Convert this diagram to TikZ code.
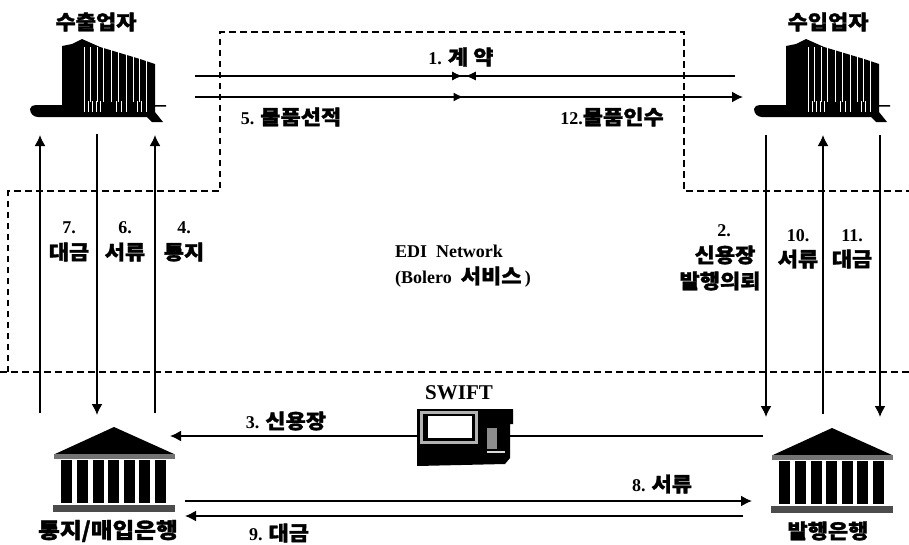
\documentclass[tikz,border=0pt]{standalone}
\usepackage{fontspec}
\usetikzlibrary{arrows.meta,decorations.markings}
\setmainfont{Liberation Serif}
\newfontfamily\krfont{Noto Sans CJK KR}[FakeStretch=1.1,BoldFeatures={FakeBold=1.5}]
\newcommand{\krs}{\krfont\fontsize{20}{24}\selectfont\bfseries}
\newcommand{\lts}{\rmfamily\fontsize{18}{22}\selectfont\bfseries}
\tikzset{
  lbl/.style={font=\krs, inner sep=0pt, align=center, text=black},
  lat/.style={font=\lts, inner sep=0pt, align=center, text=black},
  conn/.style={line width=1.7pt, draw=black},
  tip/.style={-{Latex[length=11pt,width=11pt]}},
  bound/.style={line width=1.6pt, draw=black, dash pattern=on 6.5pt off 4.5pt},
  midR/.style={postaction={decorate},decoration={markings,mark=at position #1 with {\arrow{Latex[length=10pt,width=9pt]}}}},
  midL/.style={postaction={decorate},decoration={markings,mark=at position #1 with {\arrow{Latex[reversed,length=10pt,width=9pt]}}}},
  mass/.style={fill=black, draw=none},
  gap/.style={draw=white, line width=0.35pt},
  plant/.pic={
    \path[mass] (30,109) to[out=90,in=180] (36,105) -- (62,105) -- (62,46) -- (72,44) -- (82,39) -- (100,47) -- (120,53) -- (140,59) -- (155,64) -- (155,105) -- (166,105) -- (166,106.5) -- (155,106.5) -- (155,112) -- (163,122) -- (152,122) -- (147,117) -- (38,117) to[out=180,in=-90] (30,109) -- cycle;
    \foreach \xa in {84,90,97,103,111,118,126,133,139,146}{\draw[gap] (\xa,47) -- (\xa,102);}
    \foreach \xa in {84,88,92,96,100,116,121,126,137,141,146}{\draw[white,line width=0.8pt] (\xa,101) -- (\xa,112);}
  },
  bank/.pic={
    \path[mass] (114,427) -- (174,454) -- (55,454) -- cycle;
    \path[fill=black!55] (54,454) rectangle (175,459);
    \foreach \xa in {61,77,93,108,124,139,155}{\path[mass] (\xa,460) rectangle ++(11,43);}
    \path[fill=black!70] (53,505) rectangle (175,512);
  }
}
\begin{document}
\begin{tikzpicture}[x=1pt,y=-1pt]
\useasboundingbox (0,0) rectangle (909,544);
\fill[white] (0,0) rectangle (909,544);
\coordinate (b0) at (0,372); \coordinate (b1) at (909,372);
\coordinate (c0) at (8,372); \coordinate (c1) at (8,191); \coordinate (c2) at (220,191);
\coordinate (c3) at (220,32); \coordinate (c4) at (684,32); \coordinate (c5) at (684,191); \coordinate (c6) at (909,191);
\draw[bound] (c0) -- (c1) -- (c2) -- (c3) -- (c4) -- (c5) -- (c6);
\draw[bound] (b0) -- (b1);
\pic at (0,0) {plant};
\pic at (724,0) {plant};
\pic at (0,0) {bank};
\pic at (718,1) {bank};
\foreach \n/\x/\ya/\yb in {e7/40/135/413,e6/97/134/415,e4/155/135/413,i2/766/135/417,i10/823/135/414,i11/880/135/417}{
  \coordinate (\n t) at (\x,\ya); \coordinate (\n b) at (\x,\yb);}
\draw[conn,tip] (e7b) -- (e7t);
\draw[conn,tip] (e6t) -- (e6b);
\draw[conn,tip] (e4b) -- (e4t);
\draw[conn,tip] (i2t) -- (i2b);
\draw[conn,tip] (i10b) -- (i10t);
\draw[conn,tip] (i11t) -- (i11b);
\coordinate (k1a) at (195,76); \coordinate (k1b) at (735,76);
\coordinate (k5a) at (195,97); \coordinate (k5b) at (743,97);
\draw[conn,midR=0.4945,midL=0.52] (k1a) -- (k1b);
\draw[conn,tip,midR=0.49] (k5a) -- (k5b);
\node[lat,font=\rmfamily\fontsize{21}{24}\selectfont\bfseries] (swifttxt) at (459,393) {SWIFT};
\coordinate (s0) at (763,436); \coordinate (s1) at (170,436);
\draw[conn,tip] (s0) -- (s1);
\path[mass] (417,409) -- (513,409) -- (513,424) -- (510,424) -- (510,458) -- (505,464) -- (417,466) -- cycle;
\path[fill=black!30] (420,411) rectangle (478,444);
\path[fill=black] (423,414) rectangle (475,441);
\path[fill=white] (428,415.5) rectangle (472,438);
\path[fill=black!45] (487,428) rectangle (497,449);
\path[fill=white!85!black] (487,450.5) rectangle (505,453);
\coordinate (l8a) at (185,501); \coordinate (l8b) at (752,501);
\coordinate (l9a) at (743,516); \coordinate (l9b) at (185,516);
\draw[conn,tip] (l8a) -- (l8b);
\draw[conn,tip] (l9a) -- (l9b);
\node[lbl] (t1) at (96,22) {수출업자};
\node[lbl] (t2) at (828,22) {수입업자};
\node[lbl] (t3) at (461,57) {\lts 1. \krs 계 약};
\node[lbl] (t4) at (291,117) {\lts 5. \krs 물품선적};
\node[lbl] (t5) at (612,117) {\lts 12.\krs 물품인수};
\node[lat] (t6) at (69,228) {7.};
\node[lbl] (t7) at (69,252) {대금};
\node[lat] (t8) at (125,228) {6.};
\node[lbl] (t9) at (125,252) {서류};
\node[lat] (t10) at (184,228) {4.};
\node[lbl] (t11) at (184,252) {통지};
\node[lat] (t12) at (449,251) {EDI\ \ Network};
\node[lat] (t13) at (463,277) {(Bolero\ \ \krs 서비스\,\lts)};
\node[lat] (t14) at (724,231) {2.};
\node[lbl] (t15) at (725,255) {신용장};
\node[lbl] (t16) at (720,281) {발행의뢰};
\node[lat] (t17) at (798,236) {10.};
\node[lbl] (t18) at (798,259) {서류};
\node[lat] (t19) at (852,236) {11.};
\node[lbl] (t20) at (852,259) {대금};
\node[lbl] (t21) at (286,421) {\lts 3. \krs 신용장};
\node[lbl] (t22) at (662,484) {\lts 8. \krs 서류};
\node[lbl] (t23) at (279,533) {\lts 9. \krs 대금};
\node[lbl,font=\krfont\fontsize{21.5}{24}\selectfont\bfseries] (t24) at (108,531) {통지/매입은행};
\node[lbl] (t25) at (828,531) {발행은행};
\end{tikzpicture}
\end{document}
